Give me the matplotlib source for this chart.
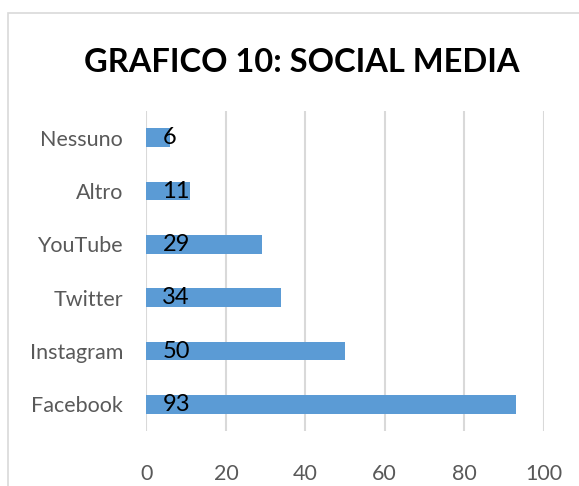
import matplotlib.pyplot as plt
from matplotlib.patches import Rectangle

categories = ['Facebook', 'Instagram', 'Twitter', 'YouTube', 'Altro', 'Nessuno']
values = [93, 50, 34, 29, 11, 6]
xticks = [0, 20, 40, 60, 80, 100]

plt.rcParams['font.family'] = ['Lato', 'DejaVu Sans']

fig = plt.figure(figsize=(5.79, 4.86), dpi=100)
fig.patches.append(Rectangle((8 / 579, -0.1), 2, (486 - 13) / 486 + 0.1,
                             transform=fig.transFigure, fill=False,
                             edgecolor='#d9d9d9', linewidth=1.2))

ax = fig.add_axes([146.5 / 579, 55 / 486, 397 / 579, 320 / 486])
y = list(range(len(categories)))
ax.barh(y, values, height=0.356, color='#5b9bd5', zorder=3)
for yi, v in zip(y, values):
    ax.text(4.0, yi, str(v), ha='left', va='center', fontsize=17,
            color='black', zorder=4)

ax.set_xlim(0, 100)
ax.set_ylim(-0.5, len(categories) - 0.5)
ax.set_xticks(xticks)
ax.set_xticklabels([str(t) for t in xticks])
ax.set_yticks(y)
ax.set_yticklabels(categories)
ax.grid(axis='x', color='#d9d9d9', linewidth=1.5, zorder=0)
for s in ax.spines.values():
    s.set_visible(False)
ax.tick_params(length=0, labelsize=15.5, labelcolor='#595959')
ax.tick_params(axis='x', pad=24)
ax.tick_params(axis='y', pad=17)

fig.text(302 / 579, 1 - 63 / 486, 'GRAFICO 10: SOCIAL MEDIA', ha='center',
         va='center', fontsize=23.5, fontweight='bold', color='black')

fig.savefig('out.png', dpi=100)
